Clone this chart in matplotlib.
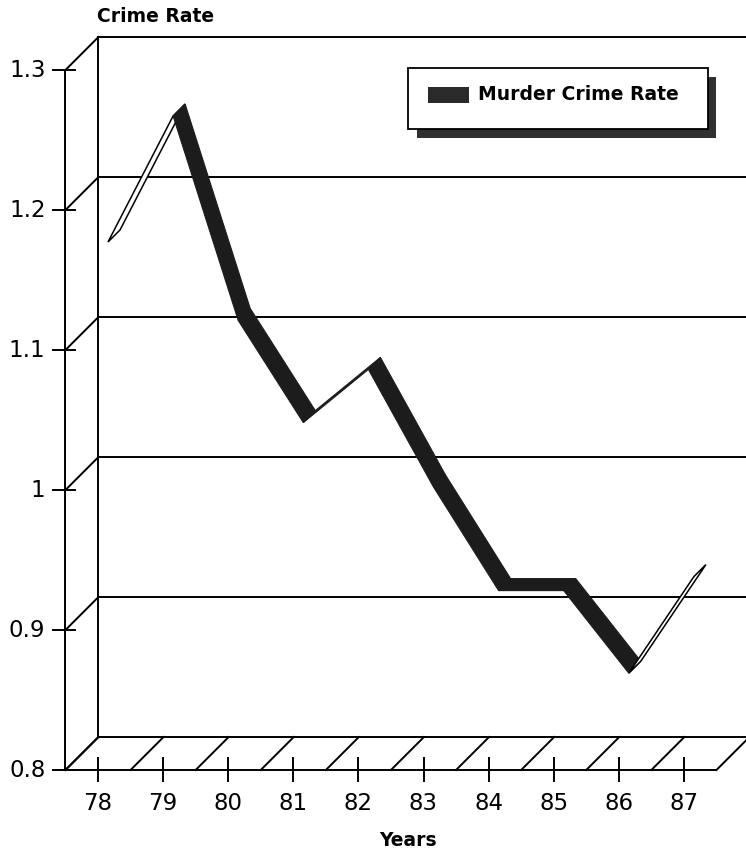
import matplotlib
matplotlib.use("Agg")
import matplotlib.pyplot as plt
from matplotlib.patches import Polygon, Rectangle

# ---------------- data ----------------
years = ["78", "79", "80", "81", "82", "83", "84", "85", "86", "87"]
murder_rate = [1.17, 1.26, 1.114, 1.041, 1.079, 0.995, 0.921, 0.921, 0.862, 0.931]
y_ticks = [0.8, 0.9, 1.0, 1.1, 1.2, 1.3]
y_tick_labels = ["0.8", "0.9", "1", "1.1", "1.2", "1.3"]
series_name = "Murder Crime Rate"
y_title = "Crime Rate"
x_title = "Years"

# ---------------- layout ----------------
W, H = 746, 857
PX_X = 65.1      # pixels per category
PX_Y = 1400.0    # pixels per unit of rate
X0_PX = 98       # pixel column of first category
Y0_PX = 770      # pixel row (from top) of 0.8
DEPTH_PX = 33    # 3-D depth offset in pixels
RIB_FRONT, RIB_BACK = 10 / 33, 22 / 33   # ribbon depth fractions

ymin = y_ticks[0]
ymax = y_ticks[-1]
DX = DEPTH_PX / PX_X
DY = DEPTH_PX / PX_Y

fig = plt.figure(figsize=(W / 100, H / 100), dpi=100)
ax = fig.add_axes([0, 0, 1, 1])
ax.set_xlim(-X0_PX / PX_X, (W - X0_PX) / PX_X)
ax.set_ylim(ymin - (H - Y0_PX) / PX_Y, ymin + Y0_PX / PX_Y)
ax.axis("off")

LW = 1.4
K = "black"
n = len(years)
xl, xr = -0.5, n - 0.5
bx = xl + DX
xend = ax.get_xlim()[1] + 0.5

# back wall grid lines and top
for v in y_ticks[1:]:
    ax.plot([bx, xend], [v + DY, v + DY], color=K, lw=LW, zorder=1)
# back floor line
ax.plot([bx, xend], [ymin + DY, ymin + DY], color=K, lw=LW, zorder=1)
# back wall left edge
ax.plot([bx, bx], [ymin + DY, ymax + DY], color=K, lw=LW, zorder=1)
# front value axis
ax.plot([xl, xl], [ymin, ymax], color=K, lw=LW, zorder=1)
# diagonals from front axis to back wall
for v in y_ticks:
    ax.plot([xl, bx], [v, v + DY], color=K, lw=LW, zorder=1)
# y tick marks and labels
for v, lab in zip(y_ticks, y_tick_labels):
    ax.plot([xl - 12 / PX_X, xl + 10 / PX_X], [v, v], color=K, lw=LW, zorder=1)
    ax.text(xl - 20 / PX_X, v, lab, ha="right", va="center",
            fontsize=16.5, family="DejaVu Sans", color=K)

# floor front line
ax.plot([xl - 12 / PX_X, xr], [ymin, ymin], color=K, lw=LW, zorder=1)
# floor hatch diagonals
for k in range(n + 1):
    x0 = xl + k
    ax.plot([x0, x0 + DX], [ymin, ymin + DY], color=K, lw=LW, zorder=1)
# x tick marks and labels
for i, lab in enumerate(years):
    ax.plot([i, i], [ymin + 12 / PX_Y, ymin - 11 / PX_Y], color=K, lw=LW, zorder=1)
    ax.text(i, ymin - 34 / PX_Y, lab, ha="center", va="center",
            fontsize=16.5, family="DejaVu Sans", color=K)

# ---------------- ribbon ----------------
fig.canvas.draw()
for i in range(n - 1):
    v0, v1 = murder_rate[i], murder_rate[i + 1]
    f0 = (i + RIB_FRONT * DX, v0 + RIB_FRONT * DY)
    f1 = (i + 1 + RIB_FRONT * DX, v1 + RIB_FRONT * DY)
    b1 = (i + 1 + RIB_BACK * DX, v1 + RIB_BACK * DY)
    b0 = (i + RIB_BACK * DX, v0 + RIB_BACK * DY)
    p0, p1, pb = ax.transData.transform([f0, f1, b0])
    seg = p1 - p0
    dep = pb - p0
    cross = seg[0] * dep[1] - seg[1] * dep[0]
    if cross >= 0:
        poly = Polygon([f0, f1, b1, b0], closed=True, facecolor="#1c1c1c",
                       edgecolor="#1c1c1c", lw=0.8, zorder=5 + i)
    else:
        poly = Polygon([f0, f1, b1, b0], closed=True, facecolor="white",
                       edgecolor=K, lw=1.1, zorder=5 + i)
    ax.add_patch(poly)

# ---------------- titles ----------------
fig.text(97 / W, 1 - 17 / H, y_title, ha="left", va="center",
         fontsize=13.5, fontweight="bold", family="DejaVu Sans")
fig.text(408 / W, 1 - 840 / H, x_title, ha="center", va="center",
         fontsize=13.5, fontweight="bold", family="DejaVu Sans")

# ---------------- legend ----------------
def fig_rect(x0, y0, x1, y1, **kw):
    r = Rectangle((x0 / W, 1 - y1 / H), (x1 - x0) / W, (y1 - y0) / H,
                  transform=fig.transFigure, **kw)
    fig.add_artist(r)

fig_rect(417, 77, 716, 138, facecolor="#303030", edgecolor="none", zorder=20)
fig_rect(408, 68, 708, 129, facecolor="white", edgecolor=K, lw=1.3, zorder=21)
fig_rect(428, 87, 469, 103, facecolor="#2a2a2a", edgecolor="none", zorder=22)
fig.text(478 / W, 1 - 95 / H, series_name, ha="left", va="center",
         fontsize=13.5, fontweight="bold", family="DejaVu Sans", zorder=23)

fig.savefig("out.png", dpi=100)
